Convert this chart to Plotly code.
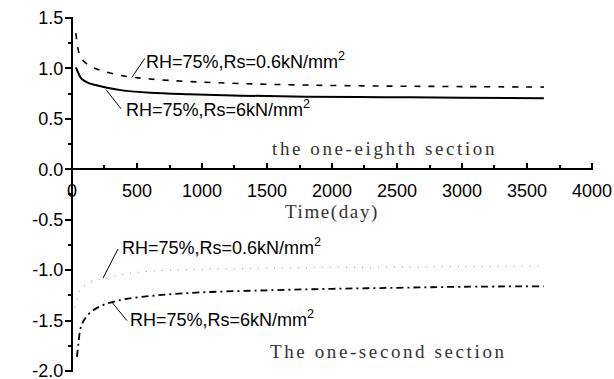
import plotly.graph_objects as go

# Stress history under RH=75% for two Rs values, two sections
t_tens_a = [30, 60, 100, 160, 250, 400, 600, 900, 1300, 1800, 2400, 3000, 3630]
s_tens_a = [1.35, 1.13, 1.06, 1.01, 0.97, 0.925, 0.895, 0.87, 0.85, 0.835, 0.825, 0.82, 0.815]   # Rs=0.6

t_tens_b = [30, 50, 75, 120, 180, 260, 400, 600, 900, 1300, 1800, 2400, 3000, 3630]
s_tens_b = [1.01, 0.95, 0.895, 0.86, 0.835, 0.81, 0.78, 0.76, 0.745, 0.73, 0.72, 0.715, 0.71, 0.705]  # Rs=6

t_comp_a = [25, 40, 60, 100, 160, 250, 400, 600, 900, 1300, 1800, 2400, 3000, 3630]
s_comp_a = [-1.37, -1.27, -1.20, -1.15, -1.11, -1.08, -1.04, -1.01, -0.995, -0.985, -0.975, -0.97, -0.965, -0.96]  # Rs=0.6

t_comp_b = [38, 50, 65, 90, 150, 250, 400, 650, 1000, 1500, 2000, 2500, 3000, 3630]
s_comp_b = [-1.86, -1.72, -1.58, -1.50, -1.41, -1.34, -1.29, -1.25, -1.22, -1.20, -1.185, -1.175, -1.165, -1.16]  # Rs=6

x_ticks = [0, 500, 1000, 1500, 2000, 2500, 3000, 3500, 4000]
y_ticks_top = [0.0, 0.5, 1.0, 1.5]
y_ticks_bottom = [-2.0, -1.5, -1.0, -0.5]

# (label, text-anchor point, leader start on curve, leader end near text, panel)
labels = [
    ("RH=75%,Rs=0.6kN/mm<sup>2</sup>", (554, 1.08), (460, 0.91), (560, 1.10), "y"),
    ("RH=75%,Rs=6kN/mm<sup>2</sup>", (400, 0.60), (262, 0.79), (377, 0.60), "y"),
    ("RH=75%,Rs=0.6kN/mm<sup>2</sup>", (370, -0.77), (238, -1.08), (354, -0.79), "y2"),
    ("RH=75%,Rs=6kN/mm<sup>2</sup>", (430, -1.475), (308, -1.32), (423, -1.50), "y2"),
]

SANS = "Liberation Sans, Arial, sans-serif"
SERIF = "Liberation Serif, Times New Roman, serif"

# page size and plot box (pixels)
W, H = 614, 379
L, R, T, B = 72, 592, 18, 371

x_lo, x_hi = x_ticks[0], x_ticks[-1]
y_lo, y_hi = y_ticks_bottom[0], y_ticks_top[-1]
dx = (x_hi - x_lo) / (R - L)          # time units per pixel
dy = (y_hi - y_lo) / (B - T)          # stress units per pixel
zero_px = T + (y_hi - 0) / dy         # pixel row of stress = 0

fx = lambda p: p / W                  # pixel column -> paper fraction
fy = lambda p: 1 - p / H              # pixel row -> paper fraction
col = lambda t: round(L + (t - x_lo) / dx)   # time -> pixel column
row = lambda v: round(T + (y_hi - v) / dy)   # stress -> pixel row

fig = go.Figure()
fig.add_trace(go.Scatter(x=t_tens_a, y=s_tens_a, mode="lines", line_shape="spline",
                         line=dict(color="black", width=1.6, dash="6px,8px"),
                         xaxis="x", yaxis="y"))
fig.add_trace(go.Scatter(x=t_tens_b, y=s_tens_b, mode="lines", line_shape="spline",
                         line=dict(color="black", width=2), xaxis="x", yaxis="y"))
fig.add_trace(go.Scatter(x=t_comp_a, y=s_comp_a, mode="lines", line_shape="spline",
                         line=dict(color="#8a8a8a", width=1, dash="1px,7px"),
                         xaxis="x", yaxis="y2"))
fig.add_trace(go.Scatter(x=t_comp_b, y=s_comp_b, mode="lines", line_shape="spline",
                         line=dict(color="black", width=1.8, dash="7px,4px,2px,4px"),
                         xaxis="x", yaxis="y2"))

STROKE = 2   # axis frame thickness in pixels


# axis frame drawn as filled bars (axis lines and tick marks)
def bar(c0, c1, r0, r1):
    fig.add_shape(type="rect", xref="paper", yref="paper",
                  x0=fx(c0), x1=fx(c1), y0=fy(r1), y1=fy(r0),
                  fillcolor="black", line=dict(width=0), layer="above")


major_y = y_ticks_bottom + y_ticks_top
minor_y = [(a + b) / 2 for a, b in zip(major_y[:-1], major_y[1:])]
minor_x = [(a + b) / 2 for a, b in zip(x_ticks[:-1], x_ticks[1:])]
c_axis, r_axis = col(x_lo), row(0)
bar(c_axis - 1, c_axis - 1 + STROKE, row(y_hi) - 1, row(y_lo) + 1)      # stress axis
bar(c_axis - 1, col(x_hi) + 1, r_axis - 1, r_axis - 1 + STROKE)         # time axis at stress = 0
for v in major_y:
    bar(c_axis - 7, c_axis, row(v) - 1, row(v) - 1 + STROKE)
for v in minor_y:
    bar(c_axis - 4, c_axis, row(v) - 1, row(v) - 1 + STROKE)
for t in x_ticks:
    bar(col(t) - 1, col(t) - 1 + STROKE, r_axis - 6, r_axis)
for t in minor_x:
    bar(col(t) - 1, col(t) - 1 + STROKE, r_axis - 4, r_axis)

for text, (tx, ty), (x0, y0), (x1, y1), yr in labels:
    fig.add_shape(type="line", x0=x0, y0=y0, x1=x1, y1=y1, xref="x", yref=yr,
                  line=dict(color="black", width=1))
    fig.add_annotation(x=tx, y=ty, xref="x", yref=yr, text=text, showarrow=False,
                       xanchor="left", yanchor="middle",
                       font=dict(family=SANS, size=18, color="black"))

fig.add_annotation(x=1523, y=0.21, xref="x", yref="y", showarrow=False, xanchor="left",
                   yanchor="middle",
                   text='<span style="letter-spacing:2.6px">the one-eighth section</span>',
                   font=dict(family=SERIF, size=19, color="#333"))
fig.add_annotation(x=1508, y=-1.81, xref="x", yref="y2", showarrow=False, xanchor="left",
                   yanchor="middle",
                   text='<span style="letter-spacing:2.6px">The one-second section</span>',
                   font=dict(family=SERIF, size=19, color="#333"))
fig.add_annotation(x=1623, y=-0.42, xref="x", yref="y2", showarrow=False, xanchor="left",
                   yanchor="middle",
                   text='<span style="letter-spacing:1.6px">Time(day)</span>',
                   font=dict(family=SERIF, size=19, color="#333"))
fig.add_annotation(x=fx(18), y=0.05, xref="paper", yref="y2", showarrow=False, textangle=-90,
                   xanchor="center", yanchor="middle",
                   text=('<span style="font-family:Liberation Serif;letter-spacing:2.4px;font-size:19px">stress </span>'
                         '<span style="font-family:Liberation Sans;font-size:21px">(MPa)</span>'),
                   font=dict(family=SANS, size=20, color="#333"))

axis_common = dict(showgrid=False, zeroline=False, showline=False, automargin=False,
                   ticklabeloverflow="allow", tickcolor="rgba(0,0,0,0)",
                   tickfont=dict(family=SANS, size=18, color="black"))

fig.update_layout(
    width=W, height=H,
    margin=dict(l=0, r=0, t=0, b=0),
    paper_bgcolor="white", plot_bgcolor="rgba(0,0,0,0)",
    showlegend=False,
    # time axis labels sit along stress = 0
    xaxis=dict(axis_common, domain=[fx(L), fx(R)], range=[x_lo, x_hi], tickvals=x_ticks,
               ticks="outside", ticklen=5, anchor="y", side="bottom"),
    yaxis=dict(axis_common, domain=[fy(zero_px), fy(T)], range=[0, y_hi],
               tickvals=y_ticks_top, ticktext=[f"{v:.1f}" for v in y_ticks_top],
               ticks="outside", ticklen=4, anchor="x"),
    yaxis2=dict(axis_common, domain=[fy(B), fy(zero_px)], range=[y_lo, 0],
                tickvals=y_ticks_bottom, ticktext=[f"{v:.1f}" for v in y_ticks_bottom],
                ticks="outside", ticklen=4, anchor="x"),
)

fig.write_html("out.html")
